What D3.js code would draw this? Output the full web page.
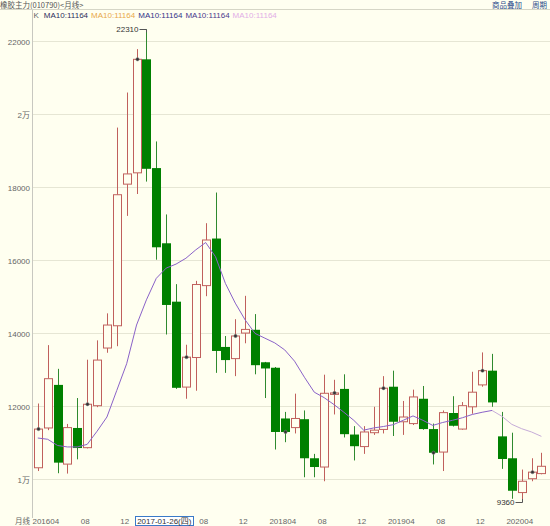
<!DOCTYPE html>
<html><head><meta charset="utf-8">
<script src="https://cdn.jsdelivr.net/npm/d3@7"></script>
<style>
html,body{margin:0;padding:0;background:#fffff0;overflow:hidden;}
svg{display:block;}
</style></head>
<body>
<script>
// ---- data ----
const months = ["201604","201605","201606","201607","201608","201609","201610","201611","201612","201701","201702","201703","201704","201705","201706","201707","201708","201709","201710","201711","201712","201801","201802","201803","201804","201805","201806","201807","201808","201809","201810","201811","201812","201901","201902","201903","201904","201905","201906","201907","201908","201909","201910","201911","201912","202001","202002","202003","202004","202005","202006","202007"];
const openV  = [10300,11390,12570,10400,11390,10850,12000,13580,14190,18070,18380,21490,18510,16450,14850,12510,13320,15290,16580,13610,13290,13990,14080,13190,13040,11650,11400,11630,10560,10320,12310,12460,11210,10880,11260,11350,12520,11560,11510,12190,11360,10730,11800,11360,11970,12570,12960,11160,10560,9620,10000,10140];
const highV  = [12060,13660,13010,11500,12210,13260,13790,14530,19620,20580,21770,22310,19240,17240,15330,13670,15420,17000,17840,13910,14370,15010,14510,13200,13060,11830,12330,11870,10680,12850,12710,12860,11440,11440,11970,12810,12960,12130,12440,12540,11510,11870,12260,12100,12930,13460,13420,11830,11260,10250,10560,10710];
const lowV   = [10210,11330,10150,10140,10530,10830,11960,13450,13630,17200,17800,18140,16000,13950,12460,12190,12410,15000,12900,12900,12810,13710,12860,12210,10800,11000,11240,10040,10040,9930,11760,11130,10500,10680,11200,11240,11170,11200,11470,11340,10390,10210,11430,11340,11780,12520,11970,10270,9450,9360,9930,10120];
const closeV = [11360,12740,10440,11400,10840,12040,13250,14210,17780,18350,21490,18490,16340,14760,12490,13330,15320,16540,13500,13250,13910,14090,13110,13020,11280,11280,11650,10560,10320,12340,12350,11220,10890,11280,11330,12480,11560,11690,12240,11360,10710,11810,11450,12000,12370,12960,12090,10540,9670,9930,10180,10340];
const ma10   = [11115,11080,10910,10870,10870,10940,11300,11690,12420,13150,14210,14900,15490,15770,15880,16040,16270,16470,16080,15350,14810,14350,13980,13850,13720,13530,13220,12780,12370,12220,12030,11820,11600,11330,11390,11430,11480,11600,11720,11600,11460,11540,11600,11670,11760,11820,11870,11710,11490,11370,11280,11160];
const yTicks = [22000,20000,18000,16000,14000,12000,10000];
const yTickLabels = ["22000","2万","18000","16000","14000","12000","1万"];
const xTickMonths = ["201604","201608","201612","201704","201708","201712","201804","201808","201812","201904","201908","201912","202004"];
const xTickLabels = ["201604","08","12","2017-01-26(四)","08","12","201804","08","12","201904","08","12","202004"];
const highlightTick = "201704";
const title = "橡胶主力(010790)<月线>";
const legendItems = ["K","MA10:11164","MA10:11164","MA10:11164","MA10:11164","MA10:11164"];
const legendColors = ["#666666","#2e2e5c","#e8a84a","#343488","#4a3a8c","#e2aee6"];
const maxLabel = "22310", minLabel = "9360";

// ---- chart ----
const W = 550, H = 526;
const BG = "#fffff0", UP = "#c0605c", DOWN = "#008000", DOWNW = "#2f8a2f";
const FONT = "'Liberation Sans','Noto Sans CJK SC',sans-serif";
const CJK = "'Noto Sans CJK SC',sans-serif";
const svg = d3.select("body").append("svg").attr("width", W).attr("height", H)
  .style("font-family", FONT);
svg.append("rect").attr("width", W).attr("height", H).attr("fill", BG);

const x = d3.scaleLinear().domain([0, months.length - 1]).range([37.8, 541.4]);
const y = d3.scaleLinear().domain([10000, 22000]).range([478.7, 40.7]);

// header
svg.append("text").attr("x", 0).attr("y", 8).attr("font-size", 7.5).attr("fill", "#555")
  .style("font-family", CJK).text(title);
[["商品叠加", 492], ["周期", 532]].forEach(([t, px]) => {
  svg.append("text").attr("x", px).attr("y", 8).attr("font-size", 7.5).attr("fill", "#2a4a8a")
    .attr("text-decoration", "underline")
    .style("font-family", CJK).text(t);
});
svg.append("line").attr("x1", 0).attr("x2", W).attr("y1", 9.5).attr("y2", 9.5).attr("stroke", "#d6d6c6");

// gridlines & y axis
const grid = svg.append("g");
yTicks.forEach((v, i) => {
  const yy = Math.round(y(v)) + 0.5;
  grid.append("line").attr("x1", 33).attr("x2", W).attr("y1", yy).attr("y2", yy)
    .attr("stroke", "#e6e6d4");
  grid.append("text").attr("x", 30).attr("y", yy + 3).attr("text-anchor", "end")
    .attr("font-size", 8).attr("fill", "#666").text(yTickLabels[i]);
});
svg.append("line").attr("x1", 32.5).attr("x2", 32.5).attr("y1", 10).attr("y2", 518).attr("stroke", "#c8c8c0");

// legend
let lx = 33.5;
const lg = svg.append("g");
legendItems.forEach((t, i) => {
  const tx = lg.append("text").attr("x", lx).attr("y", 17.5).attr("font-size", 8)
    .attr("fill", legendColors[i]).text(t);
  lx += tx.node().getComputedTextLength() + (i === 0 ? 5 : 3);
});

// candles
const candles = svg.append("g");
months.forEach((m, i) => {
  const o = openV[i], c = closeV[i], h = highV[i], l = lowV[i];
  const cx = Math.round(x(i)) + 0.5;
  const up = c >= o;
  const top = y(Math.max(o, c)), bot = y(Math.min(o, c));
  if (up) {
    candles.append("line").attr("x1", cx).attr("x2", cx).attr("y1", y(h)).attr("y2", top).attr("stroke", UP);
    candles.append("line").attr("x1", cx).attr("x2", cx).attr("y1", bot).attr("y2", y(l)).attr("stroke", UP);
    candles.append("rect").attr("x", cx - 4).attr("y", top).attr("width", 8)
      .attr("height", Math.max(1, bot - top)).attr("fill", BG).attr("stroke", UP);
  } else {
    candles.append("line").attr("x1", cx).attr("x2", cx).attr("y1", y(h)).attr("y2", y(l)).attr("stroke", DOWNW);
    candles.append("rect").attr("x", cx - 4.5).attr("y", top).attr("width", 9)
      .attr("height", Math.max(1, bot - top)).attr("fill", DOWN);
  }
});

// MA line
const splitAt = 46;
svg.append("path").attr("d", d3.line().x((d, i) => x(i)).y(d => y(d))(ma10.slice(0, splitAt + 1)))
  .attr("fill", "none").attr("stroke", "#8a62c8").attr("stroke-width", 1);
svg.append("path").attr("d", d3.line().x((d, i) => x(i + splitAt)).y(d => y(d))(ma10.slice(splitAt)))
  .attr("fill", "none").attr("stroke", "#c6acd8").attr("stroke-width", 1);

// close markers every 5 bars
months.forEach((m, i) => {
  if (i % 5 === 0) {
    svg.append("circle").attr("cx", Math.round(x(i)) + 0.5).attr("cy", y(closeV[i])).attr("r", 1.7)
      .attr("fill", "#333").attr("stroke", "#888").attr("stroke-width", 0.5);
  }
});

// max / min annotations
const iMax = highV.indexOf(d3.max(highV)), iMin = lowV.indexOf(d3.min(lowV));
const mxX = Math.round(x(iMax)) + 0.5, mnX = Math.round(x(iMin)) + 0.5;
svg.append("text").attr("x", mxX - 8).attr("y", y(highV[iMax]) + 3).attr("text-anchor", "end")
  .attr("font-size", 8).attr("fill", "#333").text(maxLabel);
svg.append("path").attr("d", `M${mxX - 7},${Math.round(y(highV[iMax])) + 0.5}H${mxX}V${y(highV[iMax]) + 3}`)
  .attr("fill", "none").attr("stroke", "#555");
svg.append("text").attr("x", mnX - 8).attr("y", y(lowV[iMin]) + 3).attr("text-anchor", "end")
  .attr("font-size", 8).attr("fill", "#333").text(minLabel);
svg.append("path").attr("d", `M${mnX - 7},${Math.round(y(lowV[iMin])) + 0.5}H${mnX}V${y(lowV[iMin]) - 3}`)
  .attr("fill", "none").attr("stroke", "#555");

// x axis labels
svg.append("text").attr("x", 15).attr("y", 524).attr("font-size", 7.5).attr("fill", "#666")
  .style("font-family", CJK).text("月线");
xTickMonths.forEach((m, k) => {
  const i = months.indexOf(m);
  const cx = x(i) + 8;
  if (m === highlightTick) {
    const t = svg.append("text").attr("x", cx).attr("y", 524).attr("text-anchor", "middle")
      .attr("font-size", 8).attr("fill", "#333").text(xTickLabels[k]);
    const bw = t.node().getComputedTextLength() + 4;
    svg.insert("rect", () => t.node()).attr("x", Math.round(cx - bw / 2) + 0.5).attr("y", 516.5)
      .attr("width", Math.round(bw)).attr("height", 9).attr("fill", "#ffffff").attr("stroke", "#3a7ac8");
  } else {
    svg.append("text").attr("x", cx).attr("y", 524).attr("text-anchor", "middle")
      .attr("font-size", 8).attr("fill", "#666").text(xTickLabels[k]);
  }
});
</script>
</body></html>
